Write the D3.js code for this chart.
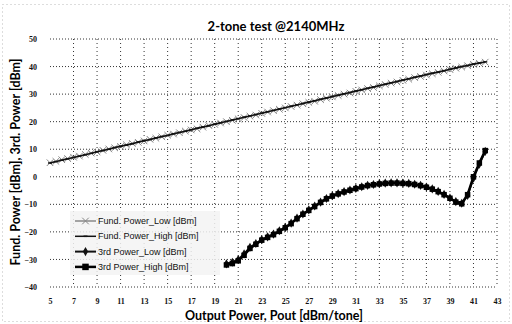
<!DOCTYPE html>
<html>
<head>
<meta charset="utf-8">
<script src="https://cdn.jsdelivr.net/npm/d3@7"></script>
<style>
  body { margin: 0; background: #fff; }
  svg { display: block; }
</style>
</head>
<body>
<div id="chart"></div>
<script>
var xTicks = [5, 7, 9, 11, 13, 15, 17, 19, 21, 23, 25, 27, 29, 31, 33, 35, 37, 39, 41, 43];
var yTicks = [-40, -30, -20, -10, 0, 10, 20, 30, 40, 50];

// fundamental output (two overlapping sweeps)
var fundX = [5, 5.5, 6, 6.5, 7, 7.5, 8, 8.5, 9, 9.5, 10, 10.5, 11, 11.5, 12, 12.5, 13, 13.5, 14, 14.5,
  15, 15.5, 16, 16.5, 17, 17.5, 18, 18.5, 19, 19.5, 20, 20.5, 21, 21.5, 22, 22.5, 23, 23.5, 24, 24.5,
  25, 25.5, 26, 26.5, 27, 27.5, 28, 28.5, 29, 29.5, 30, 30.5, 31, 31.5, 32, 32.5, 33, 33.5, 34, 34.5,
  35, 35.5, 36, 36.5, 37, 37.5, 38, 38.5, 39, 39.5, 40, 40.5, 41, 41.5, 42];
var fundLow = [5.1, 5.6, 6.2, 6.6, 7.1, 7.5, 8.1, 8.6, 9.0, 9.6, 10.1, 10.5, 11.0, 11.6, 12.1, 12.5, 13.0, 13.6, 14.0, 14.5,
  15.1, 15.5, 16.0, 16.6, 17.0, 17.4, 18.0, 18.6, 19.0, 19.5, 20.0, 20.5, 21.0, 21.5, 22.0, 22.4, 23.0, 23.5, 24.0, 24.5,
  25.0, 25.5, 26.0, 26.5, 27.0, 27.4, 28.0, 28.5, 29.0, 29.5, 30.0, 30.4, 31.0, 31.5, 32.0, 32.4, 33.0, 33.5, 34.0, 34.4,
  35.0, 35.4, 36.0, 36.4, 36.9, 37.4, 37.9, 38.4, 38.9, 39.4, 39.8, 40.3, 40.8, 41.2, 41.6];
var fundHigh = [5.0, 5.5, 6.0, 6.5, 7.0, 7.5, 8.0, 8.5, 9.1, 9.5, 10.0, 10.6, 11.1, 11.5, 12.0, 12.6, 13.1, 13.5, 14.1, 14.6,
  15.0, 15.6, 16.1, 16.5, 17.1, 17.6, 18.1, 18.5, 19.1, 19.6, 20.1, 20.6, 21.1, 21.6, 22.1, 22.6, 23.1, 23.6, 24.1, 24.6,
  25.1, 25.6, 26.1, 26.6, 27.1, 27.6, 28.1, 28.6, 29.1, 29.6, 30.1, 30.6, 31.1, 31.6, 32.1, 32.6, 33.1, 33.6, 34.1, 34.6,
  35.1, 35.6, 36.1, 36.6, 37.1, 37.6, 38.0, 38.5, 39.0, 39.5, 40.0, 40.4, 40.9, 41.3, 41.7];

// third order intermod
var thirdX = [20, 20.5, 21, 21.5, 22, 22.5, 23, 23.5, 24, 24.5, 25, 25.5, 26, 26.5, 27, 27.5, 28, 28.5, 29, 29.5,
  30, 30.5, 31, 31.5, 32, 32.5, 33, 33.5, 34, 34.5, 35, 35.5, 36, 36.5, 37, 37.5, 38, 38.5, 39, 39.5,
  40, 40.5, 41, 41.5, 42];
var thirdLow = [-31.6, -31.0, -30.0, -28.0, -25.6, -24.2, -22.8, -21.8, -20.8, -19.6, -18.3, -16.8, -15.0, -13.5, -12.0, -10.6, -9.2, -7.9, -6.9, -6.1,
  -5.4, -4.8, -4.2, -3.6, -3.1, -2.8, -2.5, -2.3, -2.2, -2.2, -2.3, -2.4, -2.7, -3.1, -3.7, -4.4, -5.3, -6.4, -7.7, -9.0,
  -9.6, -6.8, -0.5, 4.6, 9.2];
var thirdHigh = [-32.0, -31.5, -30.5, -28.5, -26.0, -24.5, -23.0, -22.0, -21.0, -19.8, -18.5, -17.0, -15.2, -13.6, -12.2, -10.8, -9.3, -8.0, -7.0, -6.2,
  -5.5, -4.9, -4.3, -3.7, -3.2, -2.9, -2.6, -2.4, -2.3, -2.3, -2.4, -2.5, -2.8, -3.2, -3.8, -4.5, -5.4, -6.5, -7.8, -9.2,
  -9.8, -6.5, 0.0, 5.0, 9.5];

var seriesNames = ['Fund. Power_Low [dBm]', 'Fund. Power_High [dBm]', '3rd Power_Low [dBm]', '3rd Power_High [dBm]'];

var width = 512, height = 324;
var margin = { top: 39, right: 15, bottom: 37, left: 50 };

var svg = d3.select("#chart").append("svg")
    .attr("width", width)
    .attr("height", height);

// faint outer chart border
svg.append("rect")
    .attr("x", 2.5).attr("y", 4.5)
    .attr("width", width - 5).attr("height", height - 7)
    .attr("fill", "none")
    .attr("stroke", "#bbb")
    .attr("stroke-dasharray", "1,3");

var x = d3.scaleLinear().domain([5, 43]).range([margin.left, width - margin.right]);
var y = d3.scaleLinear().domain([-40, 50]).range([height - margin.bottom, margin.top]);

// grid
svg.append("g").selectAll("line")
    .data(yTicks)
    .enter().append("line")
    .attr("x1", x(5)).attr("x2", x(43))
    .attr("y1", function (d) { return y(d); })
    .attr("y2", function (d) { return y(d); })
    .attr("stroke", "#333")
    .attr("stroke-width", 1)
    .attr("stroke-dasharray", "1,2");

svg.append("g").selectAll("line")
    .data(xTicks.slice(1))
    .enter().append("line")
    .attr("x1", function (d) { return x(d); })
    .attr("x2", function (d) { return x(d); })
    .attr("y1", y(50)).attr("y2", y(-40))
    .attr("stroke", "#333")
    .attr("stroke-width", 1)
    .attr("stroke-dasharray", "1,3");

// axes (labels only)
var xAxis = svg.append("g")
    .attr("transform", "translate(0," + (y(-40) + 8) + ")")
    .call(d3.axisBottom(x).tickValues(xTicks).tickSize(0).tickFormat(d3.format("d")));
xAxis.select(".domain").remove();
xAxis.selectAll("text")
    .attr("font-family", "Liberation Serif")
    .attr("font-weight", "bold")
    .attr("font-size", "8px")
    .attr("fill", "#111");

var yAxis = svg.append("g")
    .attr("transform", "translate(" + (x(5) - 10) + ",0)")
    .call(d3.axisLeft(y).tickValues(yTicks).tickSize(0).tickFormat(d3.format("d")));
yAxis.select(".domain").remove();
yAxis.selectAll("text")
    .attr("font-family", "Liberation Serif")
    .attr("font-weight", "bold")
    .attr("font-size", "8px")
    .attr("fill", "#111");

// titles
svg.append("text")
    .attr("x", 276).attr("y", 31)
    .attr("text-anchor", "middle")
    .attr("font-family", "Lato")
    .attr("font-weight", "bold")
    .attr("font-size", "13px")
    .text("2-tone test @2140MHz");

svg.append("text")
    .attr("x", 274).attr("y", 320)
    .attr("text-anchor", "middle")
    .attr("font-family", "Lato")
    .attr("font-weight", "bold")
    .attr("font-size", "12.5px")
    .text("Output Power, Pout [dBm/tone]");

svg.append("text")
    .attr("transform", "translate(20,162) rotate(-90)")
    .attr("text-anchor", "middle")
    .attr("font-family", "Lato")
    .attr("font-weight", "bold")
    .attr("font-size", "12.5px")
    .text("Fund. Power [dBm], 3rd. Power [dBm]");

function pts(xs, ys) {
    return xs.map(function (d, i) { return [d, ys[i]]; });
}

var line = d3.line()
    .x(function (d) { return x(d[0]); })
    .y(function (d) { return y(d[1]); });

var series = [
    { data: pts(fundX, fundLow), color: "#888", width: 1.5, marker: "times", size: 5 },
    { data: pts(fundX, fundHigh), color: "#111", width: 1.5, marker: "dash", size: 4 },
    { data: pts(thirdX, thirdLow), color: "#111", width: 2, marker: "diamond", size: 4 },
    { data: pts(thirdX, thirdHigh), color: "#000", width: 2.5, marker: "square", size: 5.5 }
];

function drawMarker(g, type, cx, cy, s, color) {
    if (type === "times") {
        var p = d3.symbol().type(d3.symbolTimes).size(s * s * 1.2);
        g.append("path").attr("transform", "translate(" + cx + "," + cy + ")")
            .attr("d", p()).attr("fill", "none").attr("stroke", "#888").attr("stroke-width", 1);
    } else if (type === "dash") {
        g.append("line").attr("x1", cx - s / 2).attr("x2", cx + s / 2)
            .attr("y1", cy).attr("y2", cy).attr("stroke", color).attr("stroke-width", 1.5);
    } else if (type === "diamond") {
        var q = d3.symbol().type(d3.symbolDiamond).size(s * s * 1.5);
        g.append("path").attr("transform", "translate(" + cx + "," + cy + ")")
            .attr("d", q()).attr("fill", color);
    } else {
        g.append("rect").attr("x", cx - s / 2).attr("y", cy - s / 2)
            .attr("width", s).attr("height", s).attr("fill", color);
    }
}

series.forEach(function (s) {
    var g = svg.append("g");
    g.append("path")
        .datum(s.data)
        .attr("fill", "none")
        .attr("stroke", s.color)
        .attr("stroke-width", s.width)
        .attr("d", line);
    s.data.forEach(function (d) {
        drawMarker(g, s.marker, x(d[0]), y(d[1]), s.size, s.color);
    });
});

// legend
var legend = svg.append("g");
legend.append("rect")
    .attr("x", 70).attr("y", 211)
    .attr("width", 150).attr("height", 64)
    .attr("fill", "#f3f3f3")
    .attr("opacity", 0.85);

seriesNames.forEach(function (name, i) {
    var ly = 221 + i * 15.3;
    var s = series[i];
    legend.append("line")
        .attr("x1", 75).attr("x2", 96)
        .attr("y1", ly).attr("y2", ly)
        .attr("stroke", s.color)
        .attr("stroke-width", s.width);
    drawMarker(legend, s.marker, 85.5, ly, s.size + (i === 3 ? 1 : 0), s.color);
    legend.append("text")
        .attr("x", 98).attr("y", ly + 3)
        .attr("font-family", "Liberation Sans")
        .attr("font-size", "9px")
        .attr("fill", "#111")
        .text(name);
});
</script>
</body>
</html>
